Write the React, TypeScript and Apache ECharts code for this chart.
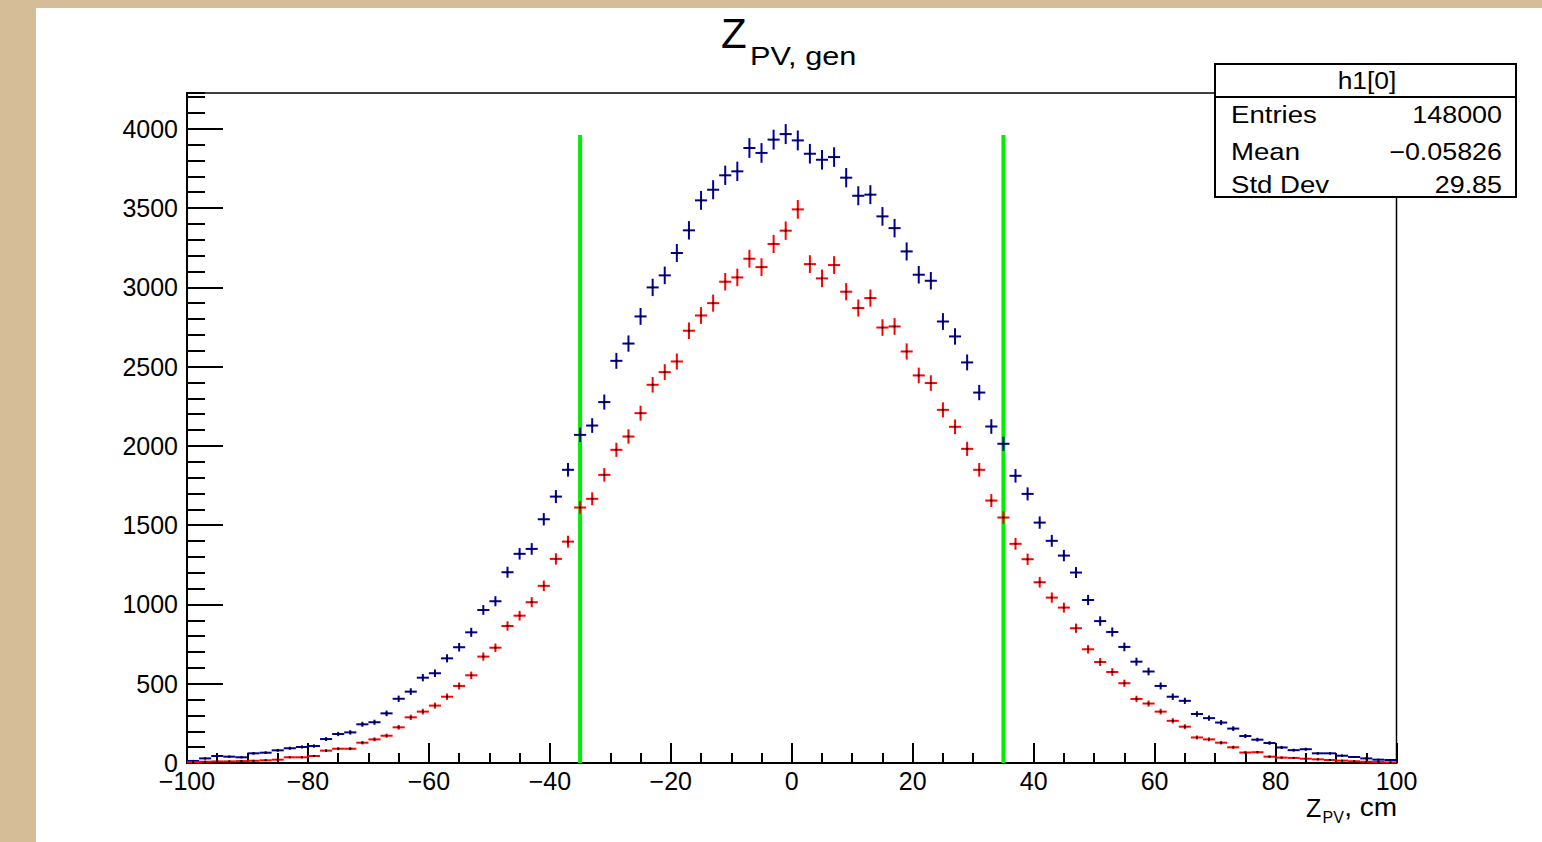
import React, { useEffect, useRef } from "react";
import * as echarts from "echarts";

// Histogram definition: 100 bins from -100 to 100 cm
const X_MIN = -100;
const X_MAX = 100;
const BIN_WIDTH = 2;

// Bin contents (bin k covers [-100+2k, -98+2k])
const blueCounts = [
  13, 29, 44, 40, 36, 61, 65, 80, 93, 101,
  107, 151, 183, 193, 244, 257, 313, 405, 450, 538,
  566, 660, 730, 824, 965, 1020, 1203, 1319, 1350, 1537,
  1680, 1849, 2069, 2128, 2276, 2536, 2645, 2816, 2999, 3075,
  3216, 3359, 3548, 3615, 3706, 3731, 3878, 3847, 3931, 3966,
  3926, 3842, 3804, 3821, 3691, 3577, 3584, 3447, 3373, 3226,
  3079, 3041, 2784, 2690, 2526, 2336, 2122, 2013, 1811, 1697,
  1516, 1401, 1308, 1201, 1028, 895, 826, 732, 639, 577,
  486, 418, 392, 309, 283, 255, 217, 170, 147, 126,
  98, 81, 87, 61, 61, 46, 38, 29, 21, 19,
];

const redCounts = [
  5, 8, 10, 10, 12, 14, 17, 21, 36, 36,
  44, 78, 90, 90, 128, 149, 172, 225, 288, 324,
  362, 418, 486, 553, 671, 727, 864, 929, 1014, 1117,
  1287, 1396, 1611, 1666, 1817, 1975, 2059, 2206, 2385, 2465,
  2532, 2726, 2822, 2900, 3035, 3062, 3180, 3127, 3273, 3357,
  3491, 3146, 3056, 3140, 2972, 2869, 2932, 2746, 2753, 2595,
  2444, 2396, 2227, 2120, 1981, 1849, 1655, 1548, 1382, 1285,
  1140, 1043, 980, 850, 717, 637, 574, 503, 404, 375,
  324, 266, 229, 161, 149, 128, 99, 66, 68, 40,
  34, 32, 27, 23, 19, 15, 11, 8, 6, 4,
];

// Vertical cut lines
const cutLinesX = [-35, 35];
const cutLineTop = 3960;

// Axis settings
const Y_MAX = 4225;
const xTickStep = 20;
const yTickStep = 500;
const yMinorStep = 100;

// Stats box texts
const statsTitle = "h1[0]";
const statsLabels = ["Entries", "Mean", "Std Dev"];
const statsValues = ["148000", "\u22120.05826", "29.85"];

const FONT = "'Liberation Sans', Arial, Helvetica, sans-serif";

function toBinData(counts: number[]) {
  return counts.map((v, k) => {
    const center = X_MIN + BIN_WIDTH * k + BIN_WIDTH / 2;
    return [center, v, Math.sqrt(v)];
  });
}

function makeRenderer(color: string) {
  return (params: any, api: any) => {
    const x = api.value(0);
    const y = api.value(1);
    const e = api.value(2);
    const pL = api.coord([x - BIN_WIDTH / 2, y]);
    const pR = api.coord([x + BIN_WIDTH / 2, y]);
    const pT = api.coord([x, y + e]);
    const pB = api.coord([x, Math.max(0, y - e)]);
    const pC = api.coord([x, y]);
    return {
      type: "group",
      children: [
        {
          type: "line",
          shape: { x1: pL[0], y1: pL[1], x2: pR[0], y2: pR[1] },
          style: { stroke: color, lineWidth: 2 },
        },
        {
          type: "line",
          shape: { x1: pT[0], y1: pT[1], x2: pB[0], y2: pB[1] },
          style: { stroke: color, lineWidth: 2 },
        },
        {
          type: "rect",
          shape: { x: pC[0] - 1, y: pC[1] - 1, width: 2, height: 2 },
          style: { fill: "#000" },
        },
      ],
    };
  };
}

const minusFmt = (v: number) => (v < 0 ? "\u2212" + Math.abs(v) : String(v));

export default function App() {
  const ref = useRef<HTMLDivElement>(null);

  useEffect(() => {
    if (!ref.current) return;
    const chart = echarts.init(ref.current, undefined, { renderer: "svg" });

    const statsGraphics: any[] = [
      {
        type: "rect",
        z: 100,
        shape: { x: 1215, y: 64, width: 301, height: 133 },
        style: { fill: "#fff", stroke: "#000", lineWidth: 2 },
      },
      {
        type: "line",
        z: 101,
        shape: { x1: 1215, y1: 97, x2: 1516, y2: 97 },
        style: { stroke: "#000", lineWidth: 2 },
      },
      {
        type: "text",
        z: 102,
        x: 1367,
        y: 80.5,
        scaleX: 1.1,
        style: {
          text: statsTitle,
          fontSize: 24,
          fontFamily: FONT,
          fill: "#000",
          align: "center",
          verticalAlign: "middle",
        },
      },
    ];
    const rowY = [115, 151.5, 185];
    statsLabels.forEach((lab, i) => {
      statsGraphics.push({
        type: "text",
        z: 102,
        x: 1231,
        y: rowY[i],
        scaleX: 1.15,
        style: {
          text: lab,
          fontSize: 24,
          fontFamily: FONT,
          fill: "#000",
          align: "left",
          verticalAlign: "middle",
        },
      });
      statsGraphics.push({
        type: "text",
        z: 102,
        x: 1502,
        y: rowY[i],
        scaleX: 1.12,
        style: {
          text: statsValues[i],
          fontSize: 24,
          fontFamily: FONT,
          fill: "#000",
          align: "right",
          verticalAlign: "middle",
        },
      });
    });

    const option: any = {
      animation: false,
      backgroundColor: "transparent",
      grid: {
        left: 187,
        right: 145.5,
        top: 93,
        bottom: 79,
        show: true,
        borderColor: "#000",
        borderWidth: 1.5,
        backgroundColor: "transparent",
      },
      xAxis: {
        type: "value",
        min: X_MIN,
        max: X_MAX,
        interval: xTickStep,
        axisLine: { show: true, onZero: false, lineStyle: { color: "#000", width: 2 } },
        axisTick: { show: true, inside: true, length: 20, lineStyle: { color: "#000", width: 2 } },
        minorTick: { show: true, splitNumber: 4, length: 10, lineStyle: { color: "#000", width: 2 } },
        splitLine: { show: false },
        minorSplitLine: { show: false },
        axisLabel: {
          formatter: minusFmt,
          fontSize: 25,
          fontFamily: FONT,
          color: "#000",
          margin: 5,
          showMinLabel: true,
          showMaxLabel: true,
        },
      },
      yAxis: [
        {
          type: "value",
          min: 0,
          max: Y_MAX,
          interval: yTickStep,
          position: "left",
          axisLine: { show: true, onZero: false, lineStyle: { color: "#000", width: 2 } },
          axisTick: { show: true, inside: true, length: 36, lineStyle: { color: "#000", width: 2 } },
          splitLine: { show: false },
          axisLabel: {
            fontSize: 25,
            fontFamily: FONT,
            color: "#000",
            margin: 9,
            showMaxLabel: false,
            formatter: (v: number) => (v % yTickStep === 0 ? String(v) : ""),
          },
        },
        {
          type: "value",
          min: 0,
          max: Y_MAX,
          interval: yMinorStep,
          position: "left",
          offset: 0,
          axisLine: { show: false, onZero: false },
          axisTick: { show: true, inside: true, length: 18, lineStyle: { color: "#000", width: 2 } },
          splitLine: { show: false },
          axisLabel: { show: false },
        },
      ],
      series: [
        {
          type: "custom",
          name: "cuts",
          z: 1,
          xAxisIndex: 0,
          yAxisIndex: 0,
          data: cutLinesX.map((x) => [x, cutLineTop]),
          encode: { x: 0, y: 1 },
          renderItem: (params: any, api: any) => {
            const x = api.value(0);
            const top = api.coord([x, api.value(1)]);
            const bot = api.coord([x, 0]);
            return {
              type: "line",
              shape: { x1: top[0], y1: top[1], x2: bot[0], y2: bot[1] },
              style: { stroke: "#00ee00", lineWidth: 4 },
            };
          },
        },
        {
          type: "custom",
          name: "blue",
          z: 3,
          xAxisIndex: 0,
          yAxisIndex: 0,
          data: toBinData(blueCounts),
          encode: { x: 0, y: 1 },
          renderItem: makeRenderer("#000099"),
        },
        {
          type: "custom",
          name: "red",
          z: 4,
          xAxisIndex: 0,
          yAxisIndex: 0,
          data: toBinData(redCounts),
          encode: { x: 0, y: 1 },
          renderItem: makeRenderer("#ff0000"),
        },
      ],
      graphic: [
        {
          type: "text",
          x: 721,
          y: 33.5,
          style: {
            text: "Z",
            fontSize: 42,
            fontFamily: FONT,
            fill: "#000",
            align: "left",
            verticalAlign: "middle",
          },
        },
        {
          type: "text",
          x: 750,
          y: 56,
          scaleX: 1.18,
          style: {
            text: "PV, gen",
            fontSize: 26,
            fontFamily: FONT,
            fill: "#000",
            align: "left",
            verticalAlign: "middle",
          },
        },
        {
          type: "text",
          x: 1306,
          y: 807.5,
          style: {
            text: "Z",
            fontSize: 25,
            fontFamily: FONT,
            fill: "#000",
            align: "left",
            verticalAlign: "middle",
          },
        },
        {
          type: "text",
          x: 1322.5,
          y: 817.5,
          style: {
            text: "PV",
            fontSize: 16,
            fontFamily: FONT,
            fill: "#000",
            align: "left",
            verticalAlign: "middle",
          },
        },
        {
          type: "text",
          x: 1397,
          y: 807.5,
          scaleX: 1.12,
          style: {
            text: ", cm",
            fontSize: 25,
            fontFamily: FONT,
            fill: "#000",
            align: "right",
            verticalAlign: "middle",
          },
        },
        ...statsGraphics,
      ],
    };

    chart.setOption(option);
    return () => chart.dispose();
  }, []);

  return (
    <div
      style={{
        position: "fixed",
        left: 0,
        top: 0,
        width: 1542,
        height: 842,
        background: "#d5bd98",
        overflow: "hidden",
      }}
    >
      <div
        style={{
          position: "absolute",
          left: 36,
          top: 8,
          width: 1506,
          height: 834,
          background: "#ffffff",
        }}
      />
      <div
        ref={ref}
        style={{ position: "absolute", left: 0, top: 0, width: 1542, height: 842 }}
      />
    </div>
  );
}
